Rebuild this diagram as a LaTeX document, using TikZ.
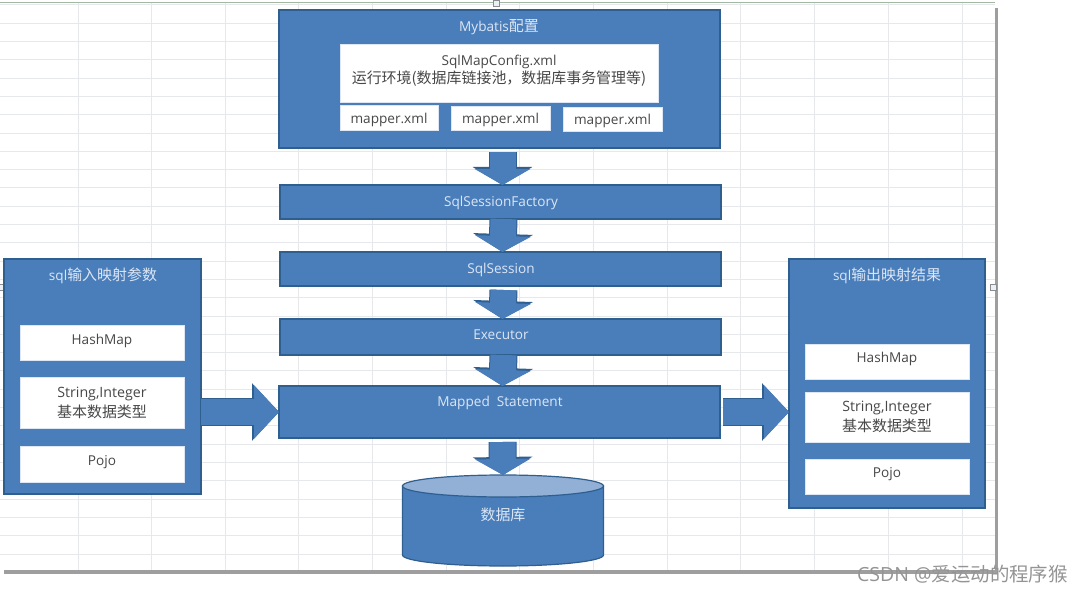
\documentclass[tikz,border=0pt]{standalone}
\usepackage{fontspec}
\setmainfont{Open Sans}
\newfontfamily\cjk{Noto Sans CJK SC}[Scale=1.1]
\usetikzlibrary{arrows.meta}
\definecolor{boxblue}{HTML}{4A7EBB}
\definecolor{edgeblue}{HTML}{2F5F8F}
\definecolor{endblue}{HTML}{92AFD6}
\definecolor{titleblue}{HTML}{DCE6F4}
\definecolor{gridgray}{HTML}{E6E8EB}
\definecolor{sheetline}{HTML}{A3B8A3}
\tikzset{
  bluebox/.style={draw=edgeblue, fill=boxblue, line width=1.2pt, outer sep=0pt, inner sep=0pt},
  whitebox/.style={fill=white, draw=titleblue, line width=0.6pt, outer sep=0pt, inner sep=0pt},
  titletext/.style={text=titleblue, font=\fontsize{13.6}{15}\selectfont, inner sep=0pt},
  bodytext/.style={text=black!72, font=\fontsize{13.6}{18.5}\selectfont, align=center, inner sep=0pt},
  stringtext/.style={text=black!72, font=\fontsize{14.2}{20}\selectfont, align=center, inner sep=0pt},
  downarrow/.style={draw=boxblue, line width=26pt, -{Triangle[length=16pt,width=55pt]},
    preaction={draw=edgeblue, line width=28pt, -{Triangle[length=18pt,width=59pt]}}},
  sidearrow/.style={draw=boxblue, line width=26pt, -{Triangle[length=25pt,width=52pt]},
    preaction={draw=edgeblue, line width=28pt, -{Triangle[length=27pt,width=56pt]}}},
  handle/.style={draw=black!45, fill=titleblue!60, minimum size=6pt, inner sep=0pt}
}
\begin{document}
\begin{tikzpicture}[x=1pt,y=-1pt]
\useasboundingbox (0,0) rectangle (1084,593);

% Sheet
\fill[black!38] (4,8) rectangle (998,574);
\fill[white] (0,3) rectangle (995,570);
\foreach \gx in {78,151.5,225,298,372,446,519,593,667,740,814,888,962}
  \draw[gridgray, line width=1pt] (\gx,3) -- (\gx,570);
\foreach \gy in {0,...,30}
  \draw[gridgray, line width=1pt] (0,5+18.3*\gy) -- (995,5+18.3*\gy);
\draw[sheetline, line width=1pt] (0,2.5) -- (995,2.5);
\node[handle] (handletop) at (496,3) {};
\node[handle] (handleleft) at (0,287) {};
\node[handle] (handleright) at (993,287) {};

% Config
\node[bluebox, minimum width=441pt, minimum height=138pt] (mybatis) at (499.5,79) {};
\node[titletext] (mybatistitle) at (499,27) {Mybatis{\cjk 配置}};
\node[whitebox, minimum width=318pt, minimum height=58pt] (sqlmapconfig) at (499,73) {};
\node[bodytext] (sqlmaptext) at (499,71) {SqlMapConfig.xml\\{\cjk 运行环境(数据库链接池，数据库事务管理等)}};
\node[whitebox, minimum width=98pt, minimum height=25pt] (mappera) at (389,117.5) {};
\node[bodytext] (mapperatext) at (389,120) {mapper.xml};
\node[whitebox, minimum width=99pt, minimum height=24pt] (mapperb) at (500.5,118) {};
\node[bodytext] (mapperbtext) at (500.5,120) {mapper.xml};
\node[whitebox, minimum width=99pt, minimum height=24pt] (mapperc) at (612.5,119) {};
\node[bodytext] (mapperctext) at (612.5,121) {mapper.xml};

% Middle column
\node[bluebox, minimum width=441pt, minimum height=34pt] (factory) at (500.5,202) {};
\node[titletext] (factorytext) at (501,203) {SqlSessionFactory};
\node[bluebox, minimum width=441pt, minimum height=34pt] (session) at (500.5,269) {};
\node[titletext] (sessiontext) at (501,270) {SqlSession};
\node[bluebox, minimum width=441pt, minimum height=36pt] (executor) at (500.5,337) {};
\node[titletext] (executortext) at (501,335) {Executor};
\node[bluebox, minimum width=441pt, minimum height=52pt] (mapped) at (499.5,412) {};
\node[titletext] (mappedtext) at (500,403) {Mapped\ \ Statement};

% Database
\fill[boxblue, draw=edgeblue, line width=1.2pt] (402.5,486) -- (402.5,555)
  arc[start angle=180, end angle=0, x radius=100.5, y radius=11] -- (603.5,486) -- cycle;
\fill[endblue, draw=edgeblue, line width=1.2pt] (503,486) ellipse[x radius=100.5, y radius=11];
\coordinate (databasetop) at (503,475);
\node[text=titleblue, font=\fontsize{13.6}{16}\selectfont\cjk, inner sep=0pt] (databasetext) at (503,515) {数据库};

% Input
\node[bluebox, minimum width=197pt, minimum height=235pt] (inparams) at (102.5,376.5) {};
\node[titletext] (intitle) at (103,276) {sql{\cjk 输入映射参数}};
\node[whitebox, minimum width=164pt, minimum height=35pt] (inmap) at (102,342.5) {};
\node[bodytext] (inmaptext) at (102,341) {HashMap};
\node[whitebox, minimum width=164pt, minimum height=51pt] (instring) at (102,402.5) {};
\node[stringtext] (instringtext) at (102,402.5) {String,Integer\\{\cjk\fontsize{13.6}{20}\selectfont 基本数据类型}};
\node[whitebox, minimum width=164pt, minimum height=36pt] (inpojo) at (102,464) {};
\node[bodytext] (inpojotext) at (102,462) {Pojo};

% Output
\node[bluebox, minimum width=196pt, minimum height=249pt] (outparams) at (887,383.5) {};
\node[titletext] (outtitle) at (887,276) {sql{\cjk 输出映射结果}};
\node[whitebox, minimum width=164pt, minimum height=35pt] (outmap) at (887,361.5) {};
\node[bodytext] (outmaptext) at (887,359) {HashMap};
\node[whitebox, minimum width=164pt, minimum height=50pt] (outstring) at (887,417) {};
\node[stringtext] (outstringtext) at (887,417) {String,Integer\\{\cjk\fontsize{13.6}{20}\selectfont 基本数据类型}};
\node[whitebox, minimum width=164pt, minimum height=35pt] (outpojo) at (887,476.5) {};
\node[bodytext] (outpojotext) at (887,474) {Pojo};

% Arrows
\draw[downarrow] ([xshift=3pt,yshift=-4pt]mybatis.south) -- ([xshift=2pt]factory.north);
\draw[downarrow] ([xshift=3pt]factory.south) -- ([xshift=2pt]session.north);
\draw[downarrow] ([xshift=3pt,yshift=-4pt]session.south) -- ([xshift=2pt]executor.north);
\draw[downarrow] ([xshift=3pt]executor.south) -- ([xshift=3pt]mapped.north);
\draw[downarrow] ([xshift=3pt,yshift=-4pt]mapped.south) -- (databasetop);
\draw[sidearrow] (inparams.east |- mapped.west) -- (mapped.west);
\draw[sidearrow] ([xshift=3pt]mapped.east) -- (outparams.west |- mapped.east);

% Watermark
\node[text=black!42, font=\fontsize{19.5}{22}\selectfont, inner sep=0pt] (watermark) at (962.5,574)
  {CSDN @{\cjk\fontsize{17.7}{22}\selectfont 爱运动的程序猴}};
\end{tikzpicture}
\end{document}
